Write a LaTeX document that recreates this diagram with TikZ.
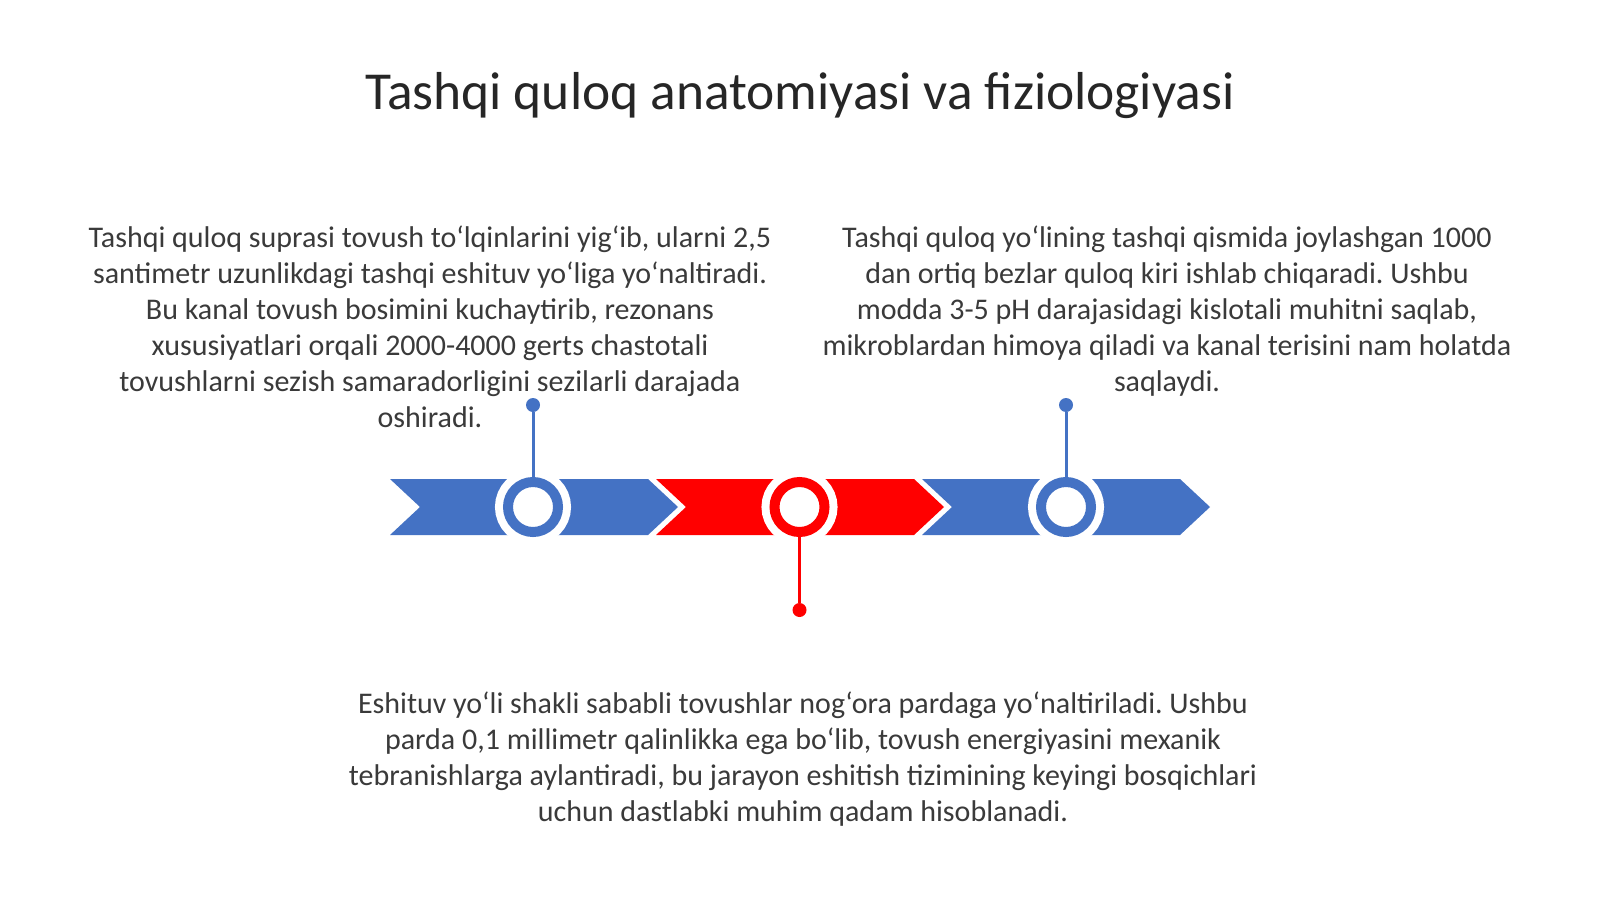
\documentclass[tikz,border=0pt]{standalone}
\usepackage{fontspec}
\setmainfont{Carlito}
\usetikzlibrary{positioning}
\definecolor{tlblue}{HTML}{4472C4}
\definecolor{tlred}{HTML}{FF0000}
\definecolor{tltext}{HTML}{3A3A3A}
\definecolor{tltitle}{HTML}{262626}
\frenchspacing
\begin{document}
\begin{tikzpicture}[x = 0.5pt, y = -0.5pt, node distance = 133.25,
    ring/.style = {circle, draw, line width = 5pt, fill = white, minimum size = 25pt, inner sep = 0,
                   preaction = {draw = white, line width = 13pt}},
    dot/.style = {circle, fill, inner sep = 0, minimum size = 7pt},
    stem/.style = {line width = 1.5pt},
    txt/.style = {align = center, text = tltext, font = \fontsize{15}{18}\selectfont, inner sep = 0, anchor = north}]
    \fill[white] (0,0) rectangle (1600,899);
    \useasboundingbox (0,0) rectangle (1600,899);
    \node[text = tltitle, font = \fontsize{26.7}{32}\selectfont, anchor = base] (title) at (800,110) {Tashqi quloq anatomiyasi va fiziologiyasi};
    % arrows
    \fill[tlblue] (390,479) -- (648,479) -- (678,507) -- (648,535) -- (390,535) -- (420,507) -- cycle;
    \fill[tlred] (656,479) -- (914,479) -- (944,507) -- (914,535) -- (656,535) -- (686,507) -- cycle;
    \fill[tlblue] (922,479) -- (1180,479) -- (1210,507) -- (1180,535) -- (922,535) -- (952,507) -- cycle;
    % rings
    \node[ring, draw = tlblue] (1) at (533,507) {};
    \node[ring, draw = tlred, right of = 1] (2) {};
    \node[ring, draw = tlblue, right of = 2] (3) {};
    \node[dot, tlblue, above of = 1, node distance = 51] (d1) {};
    \node[dot, tlred, below of = 2, node distance = 51.5] (d2) {};
    \node[dot, tlblue, above of = 3, node distance = 51] (d3) {};
    \draw[stem, tlblue] (1) -- (d1);
    \draw[stem, tlred] (2) -- (d2);
    \draw[stem, tlblue] (3) -- (d3);
    % texts
    \node[txt] (t1) at (430,225) {Tashqi quloq suprasi tovush to‘lqinlarini yig‘ib, ularni 2,5\\
        santimetr uzunlikdagi tashqi eshituv yo‘liga yo‘naltiradi.\\
        Bu kanal tovush bosimini kuchaytirib, rezonans\\
        xususiyatlari orqali 2000-4000 gerts chastotali\\
        tovushlarni sezish samaradorligini sezilarli darajada\\
        oshiradi.};
    \node[txt] (t3) at (1167,225) {Tashqi quloq yo‘lining tashqi qismida joylashgan 1000\\
        dan ortiq bezlar quloq kiri ishlab chiqaradi. Ushbu\\
        modda 3-5 pH darajasidagi kislotali muhitni saqlab,\\
        mikroblardan himoya qiladi va kanal terisini nam holatda\\
        saqlaydi.};
    \node[txt] (t2) at (803,691) {Eshituv yo‘li shakli sababli tovushlar nog‘ora pardaga yo‘naltiriladi. Ushbu\\
        parda 0,1 millimetr qalinlikka ega bo‘lib, tovush energiyasini mexanik\\
        tebranishlarga aylantiradi, bu jarayon eshitish tizimining keyingi bosqichlari\\
        uchun dastlabki muhim qadam hisoblanadi.};
\end{tikzpicture}
\end{document}
